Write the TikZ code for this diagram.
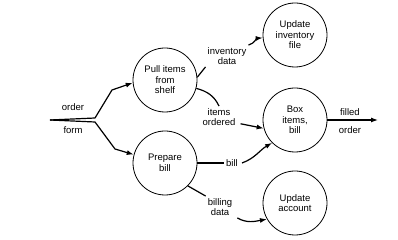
\documentclass[tikz,border=0pt]{standalone}
\usepackage{fontspec}
\setmainfont{Liberation Sans}
\usetikzlibrary{arrows.meta}

\begin{document}
\begin{tikzpicture}[x=1pt,y=1pt,
  proc/.style={circle,draw,line width=0.8pt,minimum size=64pt,inner sep=0pt,align=center,font=\fontsize{9.5}{10.5}\selectfont},
  lbl/.style={align=center,inner sep=2pt,font=\fontsize{9.5}{10.5}\selectfont},
  flow/.style={line width=1.2pt,-{Latex[length=7pt,width=5pt]}},
  link/.style={line width=1.2pt}]
  \useasboundingbox (0,0) rectangle (398,240);

  % processes
  \node[proc] (pull)   at (165,160) {Pull items\\from\\shelf};
  \node[proc] (prep)   at (165,77)  {Prepare\\bill};
  \node[proc] (updinv) at (295,205) {Update\\inventory\\file};
  \node[proc] (box)    at (295,120) {Box\\items,\\bill};
  \node[proc] (updacc) at (295,37)  {Update\\account};

  % data labels
  \node[lbl] (ordlbl)  at (73,133)  {order};
  \node[lbl] (formlbl) at (73,110)  {form};
  \node[lbl] (invd)    at (227,184) {inventory\\data};
  \node[lbl] (ord)     at (219,123) {items\\ordered};
  \node[lbl] (bill)    at (232,77)  {bill};
  \node[lbl] (billd)   at (220,33)  {billing\\data};
  \node[lbl] (fillbl)  at (350,128) {filled};
  \node[lbl] (outlbl)  at (350,110) {order};

  % incoming order form, split in two
  \coordinate (src) at (50,120);
  \draw[flow,line join=round] (src) -- (95,122) -- (112,150) -- (pull.185);
  \draw[flow,line join=round] (src) -- (95,118) -- (115,91) -- (prep.165);

  % from pull items
  \draw[link] (pull.5) -- (invd.south west);
  \draw[flow] (invd.north east) to[out=15,in=185] (updinv.185);
  \draw[link] (pull.-15) to[out=-15,in=115] (ord.north);
  \draw[flow] ([xshift=3pt]ord.-20) -- (box.195);

  % from prepare bill
  \draw[link] (prep.east) -- (bill.west);
  \draw[flow] ([xshift=2pt]bill.east) to[out=20,in=210] (box.225);
  \draw[link] (prep.-45) -- (billd.north west);
  \draw[flow] ([xshift=3pt]billd.south east) to[out=-30,in=190] (updacc.210);

  % filled order out
  \coordinate (sink) at (378,120);
  \draw[flow] (box.east) -- (sink);
\end{tikzpicture}
\end{document}
